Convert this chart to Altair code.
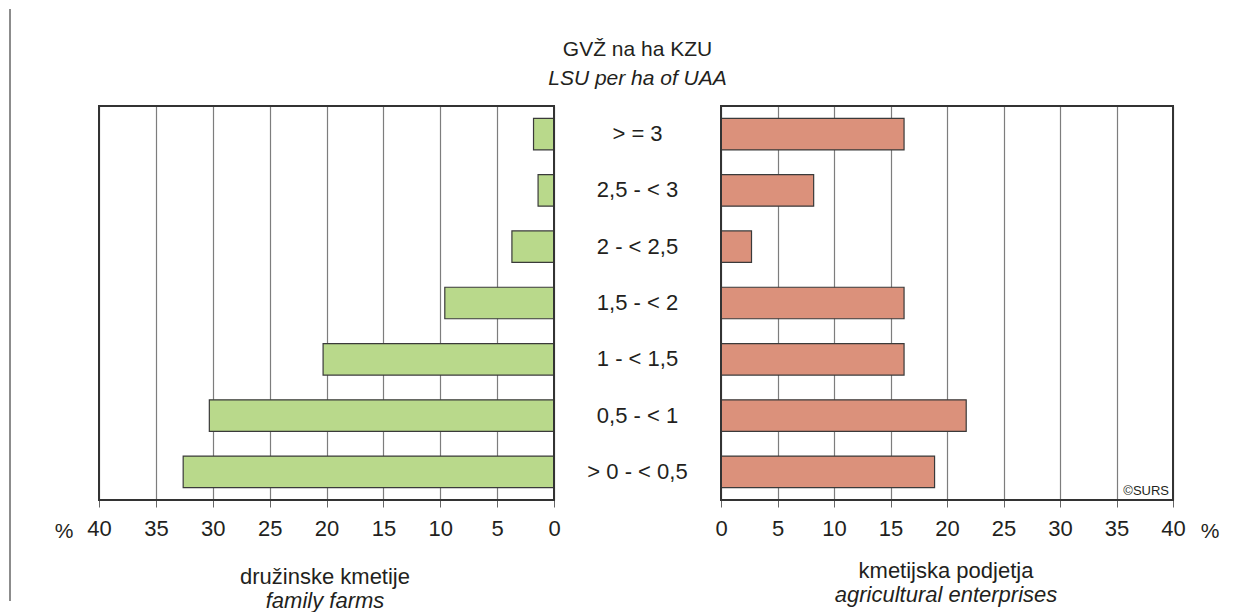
import altair as alt
import pandas as pd

# ---- data ----
categories = ["> = 3", "2,5 - < 3", "2 - < 2,5", "1,5 - < 2", "1 - < 1,5", "0,5 - < 1", "> 0 - < 0,5"]
family_farms = [1.8, 1.4, 3.7, 9.6, 20.3, 30.3, 32.6]
agri_enterprises = [16.2, 8.2, 2.7, 16.2, 16.2, 21.7, 18.9]
x_ticks = [0, 5, 10, 15, 20, 25, 30, 35, 40]

top_title = ["GVŽ na ha KZU", "LSU per ha of UAA"]
left_title = ["družinske kmetije", "family farms"]
right_title = ["kmetijska podjetja", "agricultural enterprises"]
unit_label = ["%"]
credit = ["©SURS"]

df = pd.DataFrame({"cat": categories, "ff": family_farms, "ae": agri_enterprises})
one = pd.DataFrame({"a": [0]})

FONT = "Liberation Sans"
TXT = "#231f20"
W_L, W_M, W_R, H = 455, 167, 452, 394
GREEN = "#b9d98b"
SALMON = "#db917b"
BAR_STROKE = "#3a3a3a"

yenc = alt.Y("cat:N", sort=categories, axis=None,
             scale=alt.Scale(paddingInner=0.44, paddingOuter=0.22))


def xaxis():
    return alt.Axis(values=x_ticks, title=None, grid=True, gridColor="#7d7d7d", gridWidth=1.2,
                    domain=False, ticks=True, tickSize=7, tickColor="#666", tickWidth=1,
                    labelFontSize=22, labelFont=FONT, labelColor=TXT, labelPadding=11,
                    labelFlush=False)


def txt(value, x, y, size=21, italic=False, align="center", color=TXT):
    d = pd.DataFrame({"t": [value]})
    kw = dict(font=FONT, fontSize=size, color=color, align=align, baseline="middle")
    if italic:
        kw["fontStyle"] = "italic"
    return alt.Chart(d).mark_text(**kw).encode(text="t:N", x=alt.value(x), y=alt.value(y))


def border(w):
    return alt.Chart(one).mark_rect(fill="transparent", stroke="#333", strokeWidth=2).encode(
        x=alt.value(0), x2=alt.value(w), y=alt.value(0), y2=alt.value(H))


# left page frame line
frame = alt.Chart(one).mark_rule(color="#8c8c8c", strokeWidth=2).encode(
    x=alt.value(-89), y=alt.value(-97), y2=alt.value(495))

left_bars = alt.Chart(df).mark_bar(fill=GREEN, stroke=BAR_STROKE, strokeWidth=1.2).encode(
    x=alt.X("ff:Q", scale=alt.Scale(domain=[0, 40], reverse=True, nice=False), axis=xaxis()),
    y=yenc,
)

left = alt.layer(
    frame,
    left_bars,
    border(W_L),
    txt(unit_label[0], -35, 426, size=21),
    txt(left_title[0], 226, 471, size=22),
    txt(left_title[1], 226, 495, size=22, italic=True),
).properties(width=W_L, height=H)

mid_text = alt.Chart(df).mark_text(font=FONT, fontSize=22, color=TXT, align="center",
                                   baseline="middle").encode(
    y=yenc, x=alt.value(W_M / 2), text="cat:N")

mid = alt.layer(
    mid_text,
    txt(top_title[0], W_M / 2, -56),
    txt(top_title[1], W_M / 2, -27, italic=True),
).properties(width=W_M, height=H)

right_bars = alt.Chart(df).mark_bar(fill=SALMON, stroke=BAR_STROKE, strokeWidth=1.2).encode(
    x=alt.X("ae:Q", scale=alt.Scale(domain=[0, 40], nice=False), axis=xaxis()),
    y=yenc,
)

right = alt.layer(
    right_bars,
    border(W_R),
    txt(credit[0], W_R - 4, H - 9, size=13, align="right"),
    txt(unit_label[0], 489, 426, size=21),
    txt(right_title[0], 225, 465, size=22),
    txt(right_title[1], 225, 489, size=22, italic=True),
).properties(width=W_R, height=H)

chart = alt.hconcat(left, mid, right, spacing=0, bounds="flush").properties(
    padding={"left": 1, "top": 0, "right": 0, "bottom": 0}
).configure_view(strokeWidth=0)

chart.save("out.html", embed_options={"renderer": "svg", "actions": False})
